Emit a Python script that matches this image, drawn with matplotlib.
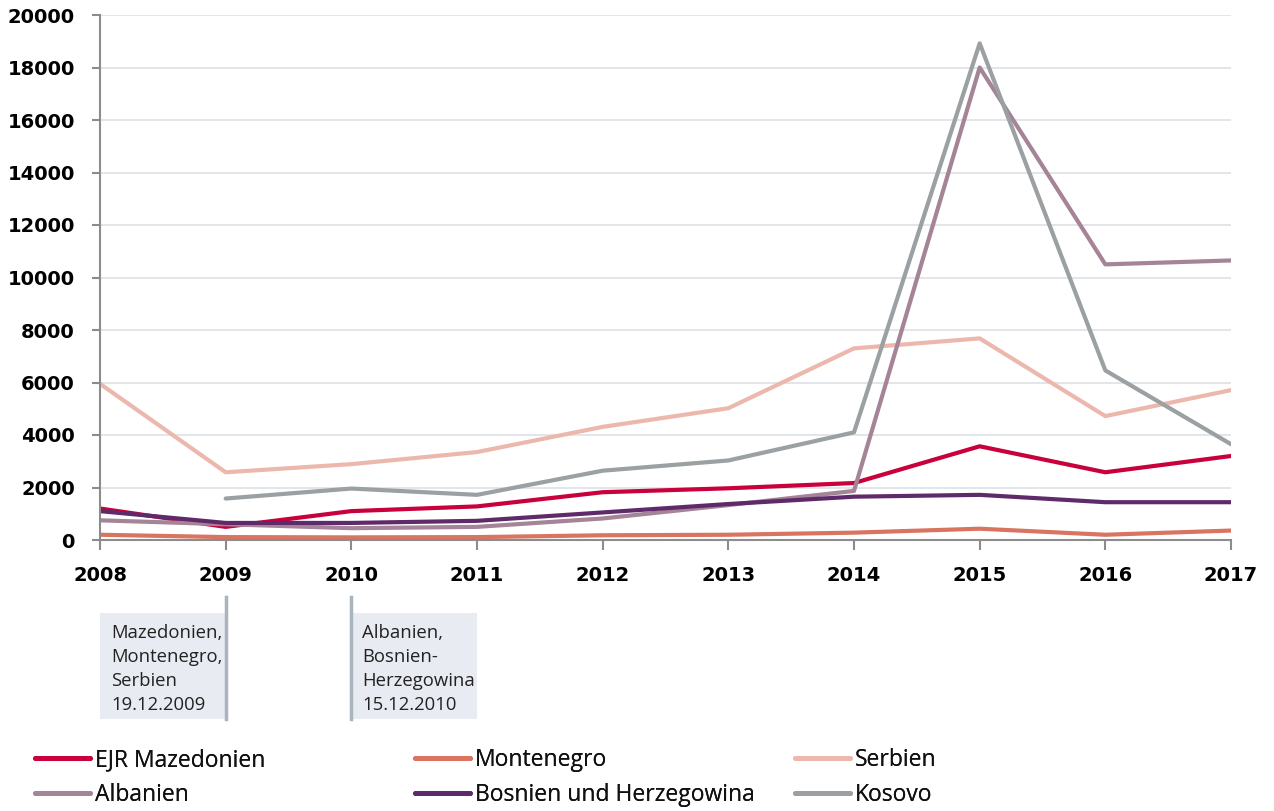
import matplotlib
matplotlib.use("Agg")
import matplotlib.pyplot as plt
import matplotlib.transforms as mtransforms
from matplotlib.patches import Rectangle
import numpy as np

years = [2008, 2009, 2010, 2011, 2012, 2013, 2014, 2015, 2016, 2017]
mazedonien = [1200, 500, 1100, 1280, 1820, 1970, 2170, 3570, 2580, 3200]
montenegro = [200, 110, 100, 110, 180, 200, 280, 430, 200, 360]
serbien = [5950, 2580, 2890, 3350, 4310, 5020, 7300, 7680, 4720, 5710]
albanien = [750, 600, 450, 500, 820, 1330, 1870, 18000, 10500, 10650]
bosnien = [1100, 650, 650, 730, 1050, 1370, 1650, 1720, 1440, 1440]
kosovo = [np.nan, 1580, 1960, 1720, 2640, 3030, 4100, 18920, 6460, 3650]

series_names = ["EJR Mazedonien", "Montenegro", "Serbien", "Albanien",
                "Bosnien und Herzegowina", "Kosovo"]
colors = ["#c8003c", "#d87460", "#ecb8ae", "#a48496", "#5e2a6a", "#9ba0a2"]

yticks = [0, 2000, 4000, 6000, 8000, 10000, 12000, 14000, 16000, 18000, 20000]
notes = ["Mazedonien,\nMontenegro,\nSerbien\n19.12.2009",
         "Albanien,\nBosnien-\nHerzegowina\n15.12.2010"]

fig = plt.figure(figsize=(12.74, 8.11), dpi=100)
ax = fig.add_axes([100/1274, 1-540/811, (1231-100)/1274, (540-15)/811])

data = [mazedonien, montenegro, serbien, albanien, bosnien, kosovo]
handles = []
for name, vals, c in zip(series_names, data, colors):
    h, = ax.plot(years, vals, color=c, lw=3, label=name, solid_capstyle="round",
                 solid_joinstyle="round")
    handles.append(h)

ax.set_xlim(2008, 2017)
ax.set_ylim(0, 20000)
ax.set_yticks(yticks)
ax.set_xticks(years)
ax.grid(axis="y", color="#dde1e6", lw=1.2)
ax.set_axisbelow(True)
for s in ["top", "right"]:
    ax.spines[s].set_visible(False)
for s in ["left", "bottom"]:
    ax.spines[s].set_color("#8c8c8c")
    ax.spines[s].set_linewidth(1.5)
ax.tick_params(axis="both", colors="#8c8c8c", width=1.5)
ax.tick_params(axis="y", length=6, pad=12)
ax.tick_params(axis="x", length=7, pad=12)
for lab in ax.get_xticklabels() + ax.get_yticklabels():
    lab.set_fontweight("bold")
    lab.set_fontsize(14)
    lab.set_color("black")
    lab.set_family("DejaVu Sans")

# annotation boxes
trans = mtransforms.blended_transform_factory(ax.transData, fig.transFigure)
box_bottom = 1 - 719/811
box_top = 1 - 613/811
line_top = 1 - 597/811
boxes = [(2008, 2009, 2009), (2010, 2011, 2010)]
for (x0, x1, xl), txt in zip(boxes, notes):
    r = Rectangle((x0, box_bottom), x1 - x0, box_top - box_bottom,
                  transform=trans, facecolor="#e8ebf2", edgecolor="none",
                  clip_on=False)
    fig.add_artist(r)
    fig.add_artist(plt.Line2D([xl, xl], [box_bottom, line_top], transform=trans,
                              color="#a9b4bd", lw=2.5))
    fig.text(x0 + 0.088, box_top - 0.014, txt, transform=trans, va="top",
             ha="left", fontsize=13.3, family="Open Sans", linespacing=1.42,
             color="#222222")

# legend: three columns, two rows each
col_x = [35, 415, 795]
pairs = [(0, 3), (1, 4), (2, 5)]
for cx, (i, j) in zip(col_x, pairs):
    leg = fig.legend([handles[i], handles[j]], [series_names[i], series_names[j]],
                     loc="center left", bbox_to_anchor=(cx/1274, 1-777.5/811),
                     frameon=False, handlelength=2.4, handletextpad=0.2,
                     labelspacing=0.45, borderpad=0, borderaxespad=0,
                     prop={"family": "Open Sans", "size": 16.5})
    for t in leg.get_texts():
        t.set_color("#111111")
    for l in leg.get_lines():
        l.set_linewidth(3.5)
    fig.add_artist(leg)

fig.savefig("out.png", dpi=100)
